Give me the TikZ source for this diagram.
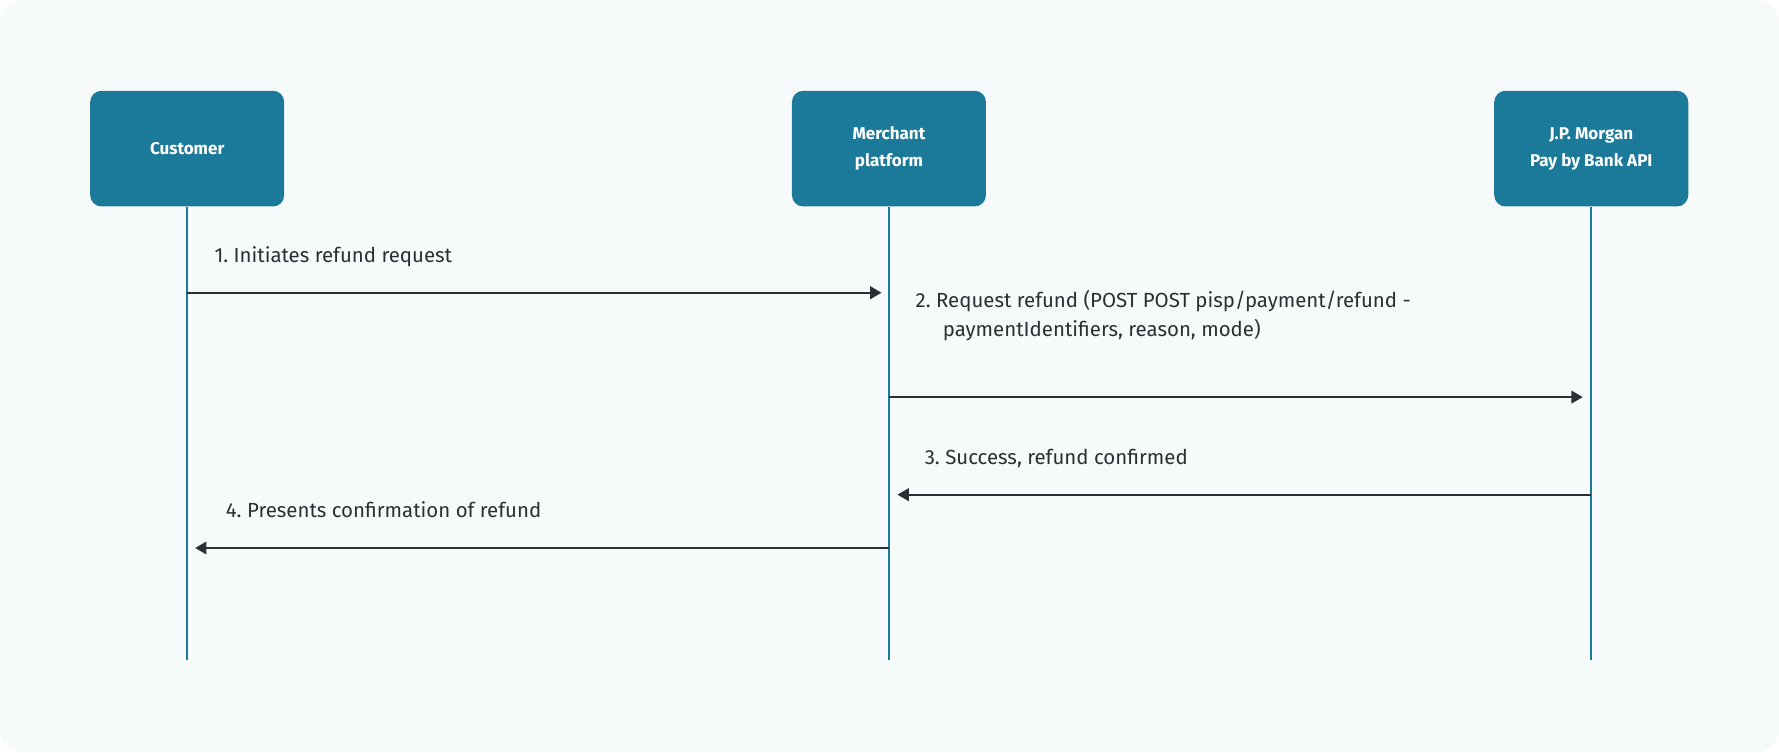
\documentclass[tikz,border=0pt]{standalone}
\usepackage{fontspec}
\setmainfont{Fira Sans}
\usetikzlibrary{arrows.meta}
\definecolor{bg}{HTML}{F7FAFA}
\definecolor{box}{HTML}{1B7A99}
\definecolor{ink}{HTML}{2B2F33}
\begin{document}
\begin{tikzpicture}[x=0.5pt,y=-0.5pt,
  actor/.style={fill=box,rounded corners=5pt,minimum width=85.5pt,minimum height=51pt,text=white,font=\fontsize{7.5}{12}\selectfont\bfseries,align=center,inner sep=0pt},
  life/.style={draw=box,line width=0.8pt},
  msg/.style={draw=ink,line width=1pt,-{Triangle[length=5pt,width=5.5pt]}},
  lbl/.style={font=\fontsize{9}{13}\selectfont,text=ink,anchor=base west,align=left}]
\fill[white] (0,0) rectangle (1568,663);
\fill[bg,rounded corners=10pt] (0,0) rectangle (1568,663);
\useasboundingbox (0,0) rectangle (1568,663);
\node[actor] (c) at (165,131) {Customer};
\node[actor] (m) at (783.5,131) {Merchant\\platform};
\node[actor] (j) at (1402.5,131) {J.P. Morgan\\Pay by Bank API};
\coordinate (ce) at (165,582);
\coordinate (me) at (783.5,582);
\coordinate (je) at (1402.5,582);
\draw[life] (c.south) -- (ce);
\draw[life] (m.south) -- (me);
\draw[life] (j.south) -- (je);
\coordinate (a1s) at (165,258); \coordinate (a1e) at (777,258);
\coordinate (a2s) at (783.5,350); \coordinate (a2e) at (1395,350);
\coordinate (a3s) at (1402.5,436); \coordinate (a3e) at (791,436);
\coordinate (a4s) at (783.5,483); \coordinate (a4e) at (172,483);
\draw[msg] (a1s) -- (a1e);
\draw[msg] (a2s) -- (a2e);
\draw[msg] (a3s) -- (a3e);
\draw[msg] (a4s) -- (a4e);
\node[lbl] (l1) at (182,231) {1.\ Initiates refund request};
\node[lbl] (l2) at (800,297) {2.\ Request refund (POST POST pisp/payment/refund -\\\hspace*{12pt}paymentIdentifiers, reason, mode)};
\node[lbl] (l3) at (808,409) {3.\ Success, refund confirmed};
\node[lbl] (l4) at (192,456) {4.\ Presents confirmation of refund};
\end{tikzpicture}
\end{document}
